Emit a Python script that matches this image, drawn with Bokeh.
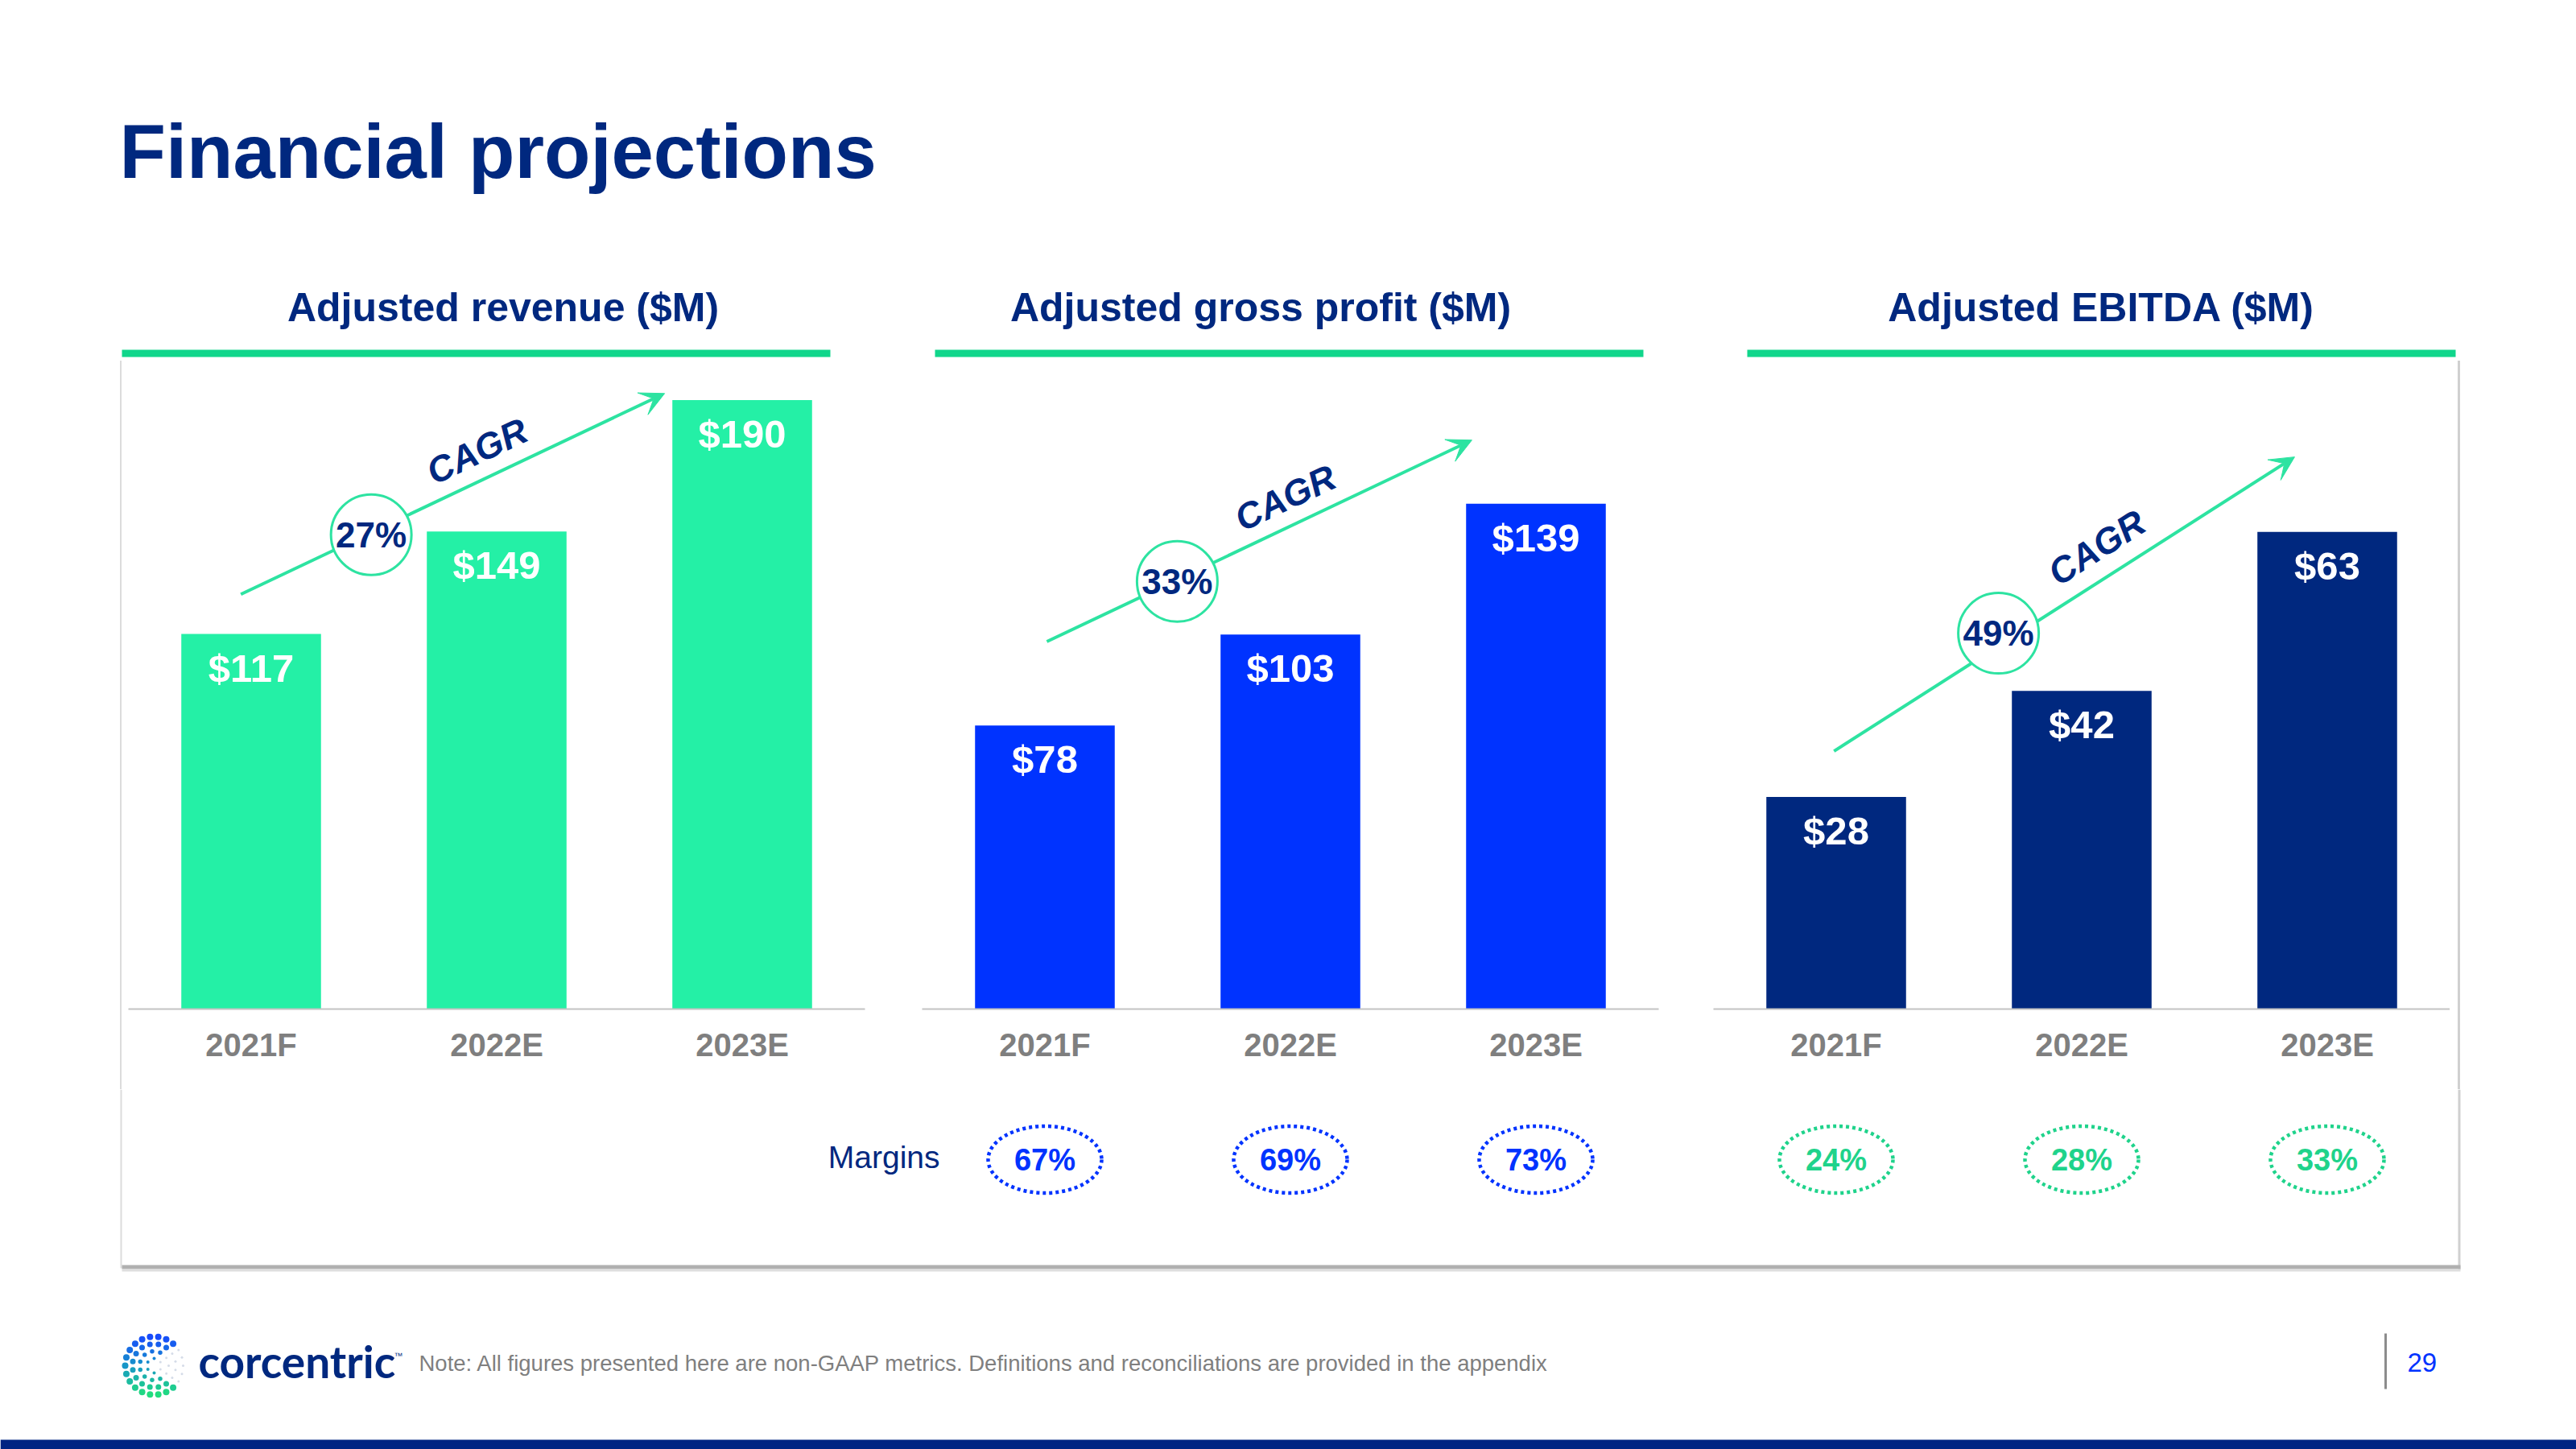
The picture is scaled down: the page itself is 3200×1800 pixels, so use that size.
import numpy as np
from bokeh.plotting import figure
from bokeh.models import Range1d, FactorRange, Arrow, VeeHead, Div
from bokeh.layouts import row, column
from bokeh.embed import file_html
from bokeh.resources import INLINE
from bokeh.core.properties import value

# ------------------------------------------------------------------ data
categories = ["2021F", "2022E", "2023E"]
panel_titles = ["Adjusted revenue ($M)", "Adjusted gross profit ($M)", "Adjusted EBITDA ($M)"]
revenue = [117, 149, 190]
gross_profit = [78, 103, 139]
ebitda = [28, 42, 63]
cagr_pct = [27, 33, 49]
gross_margin_pct = [67, 69, 73]
ebitda_margin_pct = [24, 28, 33]
margins_label = "Margins"
cagr_label = "CAGR"
title_text = "Financial projections"
note_text = ("Note: All figures presented here are non-GAAP metrics. "
             "Definitions and reconciliations are provided in the appendix")
brand_text = "corcentric"
page_number = "29"

panel_values = [revenue, gross_profit, ebitda]
panel_margins = [None, gross_margin_pct, ebitda_margin_pct]

# ------------------------------------------------------------------ styles / layout
FONT = "Liberation Sans"
NAVY = "#00287F"
BLUE = "#0033FF"
MINT_BAR = "#24F0A6"
ARROW_C = "#2DE3A1"
HEAD_LINE = "#10D68B"
MARGIN_GREEN = "#1FD38B"
GREY_TXT = "#7F7F7F"
AXIS_C = "#C4C4C4"
bar_colors = [MINT_BAR, BLUE, NAVY]
margin_colors = [None, BLUE, MARGIN_GREEN]

W, H = 3200, 1800
TOP_H, MID_H = 448, 905
BOT_H = H - TOP_H - MID_H
FRAME_H = 805
BOTTOM_BORDER = MID_H - FRAME_H
CAT_W = 305
FRAME_W = CAT_W * len(categories)
frame_left = [159, 1145, 2128]
fig_edges = [159, 1109, 2094, 3043]
px_per_unit = [3.982, 4.517, 9.41]
BAR_W = 0.569

# CAGR arrow geometry: x in category units, y as fraction of the frame height
cagr_geom = [
    dict(x0=0.458, f0=0.640, x1=2.184, f1=0.950, cx=0.989, fc=0.732, tx=1.420, ft=0.861, ang=25.4),
    dict(x0=0.508, f0=0.567, x1=2.239, f1=0.878, cx=1.039, fc=0.660, tx=1.479, ft=0.789, ang=25.4),
    dict(x0=0.491, f0=0.398, x1=2.367, f1=0.852, cx=1.161, fc=0.580, tx=1.561, ft=0.712, ang=32.6),
]


def blank_fig(width, height, x0, x1, y_top, y_bottom):
    f = figure(width=width, height=height,
               x_range=Range1d(x0, x1), y_range=Range1d(y_bottom, y_top),
               output_backend="svg", toolbar_location=None, title=None,
               x_axis_location=None, y_axis_location=None, min_border=0,
               outline_line_color=None, background_fill_color="white",
               border_fill_color="white")
    f.grid.visible = False
    return f


# ------------------------------------------------------------------ top band
T = blank_fig(W, TOP_H, 0, W, 0, TOP_H)
T.text(x=[148], y=[188], text=[title_text], text_font=value(FONT), text_font_style="bold",
       text_font_size="94px", text_color=NAVY, text_align="left", text_baseline="middle")
T.text(x=[624.5, 1565.5, 2610], y=[381.5] * 3, text=panel_titles, text_font=value(FONT),
       text_font_style="bold", text_font_size="50px", text_color=NAVY,
       text_align="center", text_baseline="middle")
T.quad(left=[151, 1161, 2170], right=[1031, 2041, 3050], top=[434] * 3, bottom=[443] * 3,
       fill_color=HEAD_LINE, line_color=None)

# ------------------------------------------------------------------ middle row
S0 = Div(text='<div style="margin-left:149px;width:2px;height:905px;background:#DCDCDC"></div>',
         width=fig_edges[0], height=MID_H, margin=0)
S3 = Div(text='<div style="margin-left:10px;width:3px;height:905px;background:#D0D0D0"></div>',
         width=W - fig_edges[3], height=MID_H, margin=0)

panels = []
for i in range(3):
    vals = panel_values[i]
    y_end = FRAME_H / px_per_unit[i]
    left_b = frame_left[i] - fig_edges[i]
    right_b = fig_edges[i + 1] - (frame_left[i] + FRAME_W)
    p = figure(width=fig_edges[i + 1] - fig_edges[i], height=MID_H,
               x_range=FactorRange(factors=categories), y_range=Range1d(0, y_end),
               output_backend="svg", toolbar_location=None, title=None,
               y_axis_location=None, min_border_left=left_b, min_border_right=right_b,
               min_border_top=0, min_border_bottom=BOTTOM_BORDER,
               outline_line_color=None, background_fill_color="white",
               border_fill_color="white")
    p.grid.visible = False

    g = cagr_geom[i]
    arr = Arrow(end=VeeHead(size=30, fill_color=ARROW_C, line_color=ARROW_C, line_width=1),
                x_start=g["x0"], y_start=g["f0"] * y_end, x_end=g["x1"], y_end=g["f1"] * y_end,
                line_color=ARROW_C, line_width=4, level="underlay")
    p.add_layout(arr)

    p.vbar(x=categories, top=vals, width=BAR_W, fill_color=bar_colors[i], line_color=None)
    p.text(x=categories, y=vals, text=[f"${v}" for v in vals], y_offset=42,
           text_font=value(FONT), text_font_style="bold", text_font_size="49px",
           text_color="white", text_align="center", text_baseline="middle")

    p.scatter(x=[g["cx"]], y=[g["fc"] * y_end], marker="circle", size=100,
              fill_color="white", line_color=ARROW_C, line_width=3)
    p.text(x=[g["cx"]], y=[g["fc"] * y_end], text=[f"{cagr_pct[i]}%"],
           text_font=value(FONT), text_font_style="bold", text_font_size="44px",
           text_color=NAVY, text_align="center", text_baseline="middle")
    p.text(x=[g["tx"]], y=[g["ft"] * y_end], text=[cagr_label], angle=np.radians(g["ang"]),
           text_font=value(FONT), text_font_style="bold italic", text_font_size="45px",
           text_color=NAVY, text_align="center", text_baseline="middle")

    ax = p.xaxis[0]
    ax.axis_line_color = AXIS_C
    ax.axis_line_width = 2
    ax.major_tick_line_color = None
    ax.minor_tick_line_color = None
    ax.major_tick_out = 0
    ax.major_tick_in = 0
    ax.major_label_standoff = 22
    ax.major_label_text_font = FONT
    ax.major_label_text_font_style = "bold"
    ax.major_label_text_font_size = "40px"
    ax.major_label_text_color = GREY_TXT
    panels.append(p)

# ------------------------------------------------------------------ bottom band
B = blank_fig(W, BOT_H, 0, W, TOP_H + MID_H, H)
B.extra_x_ranges = {f"p{i}": Range1d(-frame_left[i] / CAT_W, (W - frame_left[i]) / CAT_W)
                    for i in range(3)}

CARD_BOTTOM = 1571
B.segment(x0=[150], y0=[TOP_H + MID_H], x1=[150], y1=[CARD_BOTTOM + 4], line_color="#DCDCDC", line_width=2)
B.segment(x0=[3054.5], y0=[TOP_H + MID_H], x1=[3054.5], y1=[CARD_BOTTOM + 6], line_color="#D0D0D0", line_width=3)
B.quad(left=[151], right=[3056], top=[CARD_BOTTOM], bottom=[CARD_BOTTOM + 5], fill_color="#B0B0B0", line_color=None)
B.quad(left=[151], right=[3056], top=[CARD_BOTTOM + 5], bottom=[CARD_BOTTOM + 8], fill_color="#DEDEDE", line_color=None)

MARGIN_Y = 1440
B.text(x=[1167], y=[1437], text=[margins_label], text_font=value(FONT), text_font_size="39px",
       text_color=NAVY, text_align="right", text_baseline="middle")
xs_mid = [k + 0.5 for k in range(len(categories))]
for i in (1, 2):
    B.ellipse(x=xs_mid, y=[MARGIN_Y] * 3, width=141, height=83, width_units="screen",
              height_units="screen", fill_color=None, line_color=margin_colors[i],
              line_width=4.5, line_dash="4 4", x_range_name=f"p{i}")
    B.text(x=xs_mid, y=[MARGIN_Y] * 3, text=[f"{m}%" for m in panel_margins[i]],
           text_font=value(FONT), text_font_style="bold", text_font_size="38px",
           text_color=margin_colors[i], text_align="center", text_baseline="middle",
           x_range_name=f"p{i}")

# logo mark: dot rings forming a "C"
lcx, lcy = 191, 1696
lx, ly, ls, lc = [], [], [], []
c_top = np.array([23, 71, 255])
c_mid = np.array([24, 150, 200])
c_bot = np.array([34, 226, 122])
for r, s, n, off in [(36, 8, 22, 0.0), (27, 7, 16, 0.5), (18, 5.5, 11, 0.0), (9, 4, 6, 0.5)]:
    for k in range(n):
        a = 2 * np.pi * (k + off) / n
        x = lcx + r * np.cos(a)
        y = lcy - r * np.sin(a)
        deg = np.degrees(np.arctan2(np.sin(a), np.cos(a)))
        t = np.clip((y - (lcy - 38)) / 76, 0, 1)
        if abs(deg) < 38:
            col = "#D5DCE8"
            size = 3
        else:
            rgb = c_top + (c_mid - c_top) * (t / 0.5) if t < 0.5 else c_mid + (c_bot - c_mid) * ((t - 0.5) / 0.5)
            col = "#%02x%02x%02x" % tuple(int(v) for v in rgb)
            size = s
        lx.append(x); ly.append(y); ls.append(size); lc.append(col)
B.scatter(x=lx, y=ly, size=ls, fill_color=lc, line_color=None, marker="circle")

B.text(x=[246], y=[1690], text=[brand_text], text_font=value("Lato"), text_font_style="bold",
       text_font_size="55px", text_color=NAVY, text_align="left", text_baseline="middle")
B.text(x=[489], y=[1683], text=["\u2122"], text_font=value(FONT), text_font_size="11px",
       text_color=NAVY, text_align="left", text_baseline="middle")
B.text(x=[520], y=[1692.5], text=[note_text], text_font=value(FONT), text_font_size="27.5px",
       text_color=GREY_TXT, text_align="left", text_baseline="middle")
B.segment(x0=[2963], y0=[1656], x1=[2963], y1=[1725], line_color="#8C8C8C", line_width=3)
B.text(x=[2990], y=[1691.5], text=[page_number], text_font=value(FONT), text_font_size="33px",
       text_color=BLUE, text_align="left", text_baseline="middle")
B.quad(left=[0], right=[W], top=[1788], bottom=[H], fill_color="#012482", line_color=None)

layout = column(T, row(S0, *panels, S3, spacing=0), B, spacing=0)
open("out.html", "w").write(file_html(layout, INLINE))
